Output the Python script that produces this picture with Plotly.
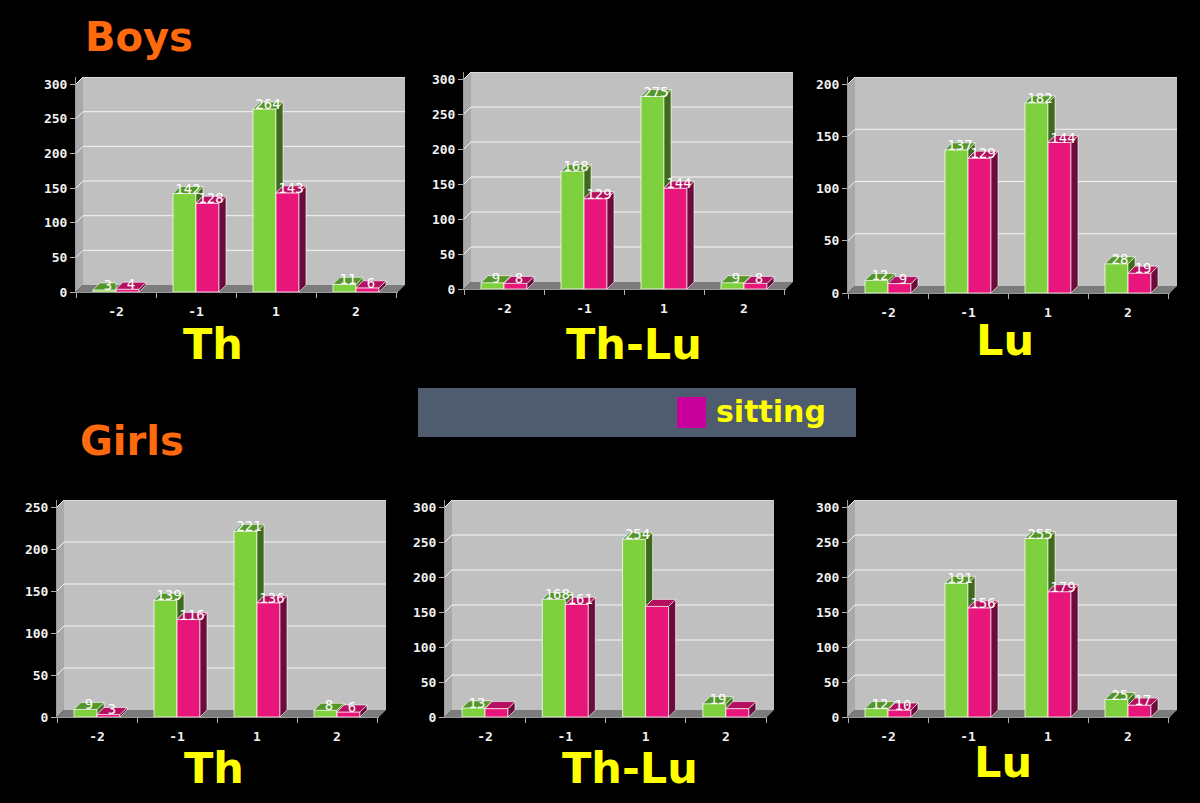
import plotly.graph_objects as go

W, H = 1200, 803

# ---------------- data ----------------
categories = ["-2", "-1", "1", "2"]

boys_th_standing = [3, 142, 264, 11]
boys_th_sitting = [4, 128, 143, 6]

boys_thlu_standing = [9, 168, 275, 9]
boys_thlu_sitting = [8, 129, 144, 8]

boys_lu_standing = [12, 137, 182, 28]
boys_lu_sitting = [9, 129, 144, 19]

girls_th_standing = [9, 139, 221, 8]
girls_th_sitting = [3, 116, 136, 6]

girls_thlu_standing = [13, 168, 254, 19]
girls_thlu_sitting = [12, 161, 158, 12]
girls_thlu_sitting_labels = ["", "161", "", ""]

girls_lu_standing = [12, 191, 255, 25]
girls_lu_sitting = [10, 156, 179, 17]

panel_titles = ["Th", "Th-Lu", "Lu", "Th", "Th-Lu", "Lu"]
y_tick_max = [300, 300, 200, 250, 300, 300]

standing = [boys_th_standing, boys_thlu_standing, boys_lu_standing,
            girls_th_standing, girls_thlu_standing, girls_lu_standing]
sitting = [boys_th_sitting, boys_thlu_sitting, boys_lu_sitting,
           girls_th_sitting, girls_thlu_sitting, girls_lu_sitting]
sitting_labels = [None, None, None, None, girls_thlu_sitting_labels, None]

# ---------------- geometry (pixels) ----------------
geom = [
    dict(axL=76, wallR=405, zero=292, tickpix=84, c0=116, sp=80, lx=213, ly=344),
    dict(axL=464, wallR=793, zero=289, tickpix=79, c0=504, sp=80, lx=634, ly=344),
    dict(axL=848, wallR=1177, zero=293, tickpix=84, c0=888, sp=80, lx=1005, ly=340),
    dict(axL=57, wallR=386, zero=717, tickpix=507, c0=97, sp=80, lx=214, ly=768),
    dict(axL=445, wallR=774, zero=717, tickpix=507, c0=485, sp=80.3, lx=630, ly=768),
    dict(axL=848, wallR=1177, zero=717, tickpix=507, c0=888, sp=80, lx=1003, ly=762),
]
D = 7      # 3D depth in px
BW = 23    # bar width in px

GREEN, GREEN_TOP, GREEN_SIDE = "#7ed03c", "#55962a", "#3e6a1c"
PINK, PINK_TOP, PINK_SIDE = "#e8167a", "#b4105f", "#6c0c3c"
EDGE = "rgba(255,255,255,0.75)"
MONO = "DejaVu Sans Mono"
HEAD_FONT = "DejaVu Sans, sans-serif"


def px_x(p):
    return p / W


def px_y(p):
    return 1 - p / H


fig = go.Figure()
shapes = []
annotations = []
layout_axes = {}

for i, g in enumerate(geom):
    n = i + 1
    xa = "x" if n == 1 else f"x{n}"
    ya = "y" if n == 1 else f"y{n}"
    sp = g["sp"]
    walltop = g["tickpix"] - D
    ymax = y_tick_max[i]
    yr1 = ymax * (g["zero"] - walltop) / (g["zero"] - g["tickpix"])
    xr0 = -(g["c0"] - g["axL"]) / sp
    xr1 = 3 + (g["wallR"] - D - (g["c0"] + 3 * sp)) / sp
    w = BW / sp
    dxd = D / sp
    dyd = D * yr1 / (g["zero"] - walltop)

    xs = list(range(len(categories)))
    sv = standing[i]
    pv = sitting[i]

    # front faces as bars
    fig.add_trace(go.Bar(x=xs, y=sv, width=w, offset=-w, marker=dict(color=GREEN, line=dict(color=EDGE, width=1)),
                         xaxis=xa, yaxis=ya, hoverinfo="skip", showlegend=False))
    fig.add_trace(go.Bar(x=xs, y=pv, width=w, offset=0, marker=dict(color=PINK, line=dict(color=EDGE, width=1)),
                         xaxis=xa, yaxis=ya, hoverinfo="skip", showlegend=False))

    # 3D faces
    gs_x, gs_y, gt_x, gt_y, ps_x, ps_y, pt_x, pt_y = [], [], [], [], [], [], [], []
    for j in xs:
        vg, vp = sv[j], pv[j]
        if vg > vp:
            gs_x += [j, j + dxd, j + dxd, j, j, None]
            gs_y += [vp, vp + dyd, vg + dyd, vg, vp, None]
            gt_x += [j - w, j - w + dxd, j + dxd, j, j - w, None]
        else:
            gt_x += [j - w, j - w + dxd, j, j, j - w, None]
        gt_y += [vg, vg + dyd, vg + dyd, vg, vg, None]
        ps_x += [j + w, j + w + dxd, j + w + dxd, j + w, j + w, None]
        ps_y += [0, dyd, vp + dyd, vp, 0, None]
        pt_x += [j, j + dxd, j + w + dxd, j + w, j, None]
        pt_y += [vp, vp + dyd, vp + dyd, vp, vp, None]
    for fx, fy, col in [(gs_x, gs_y, GREEN_SIDE), (gt_x, gt_y, GREEN_TOP),
                        (ps_x, ps_y, PINK_SIDE), (pt_x, pt_y, PINK_TOP)]:
        if fx:
            fig.add_trace(go.Scatter(x=fx, y=fy, mode="lines", fill="toself", fillcolor=col,
                                     line=dict(color=EDGE, width=0.8), xaxis=xa, yaxis=ya,
                                     hoverinfo="skip", showlegend=False))

    # value labels
    plabels = sitting_labels[i] if sitting_labels[i] is not None else [str(v) for v in pv]
    fig.add_trace(go.Scatter(
        x=[j - w / 2 + dxd / 2 for j in xs] + [j + w / 2 + dxd / 2 for j in xs],
        y=[v + dyd / 2 for v in sv] + [v + dyd / 2 for v in pv],
        text=[str(v) for v in sv] + plabels,
        mode="text", textposition="middle center",
        textfont=dict(color="white", size=14, family=MONO),
        xaxis=xa, yaxis=ya, hoverinfo="skip", showlegend=False, cliponaxis=False))

    tickvals = list(range(0, ymax + 1, 50))
    layout_axes["xaxis" if n == 1 else f"xaxis{n}"] = dict(
        domain=[px_x(g["axL"]), px_x(g["wallR"] - D)], range=[xr0, xr1], anchor=ya,
        automargin=False,
        tickmode="array", tickvals=xs, ticktext=categories,
        ticks="outside", ticklen=7, tickcolor="rgba(0,0,0,0)",
        minor=dict(tickmode="linear", tick0=-0.5, dtick=1, ticks="outside", ticklen=5,
                   tickcolor="#b0b0b0", showgrid=False),
        showgrid=False, zeroline=False, showline=True, linecolor="#9a9a9a", linewidth=1,
        tickfont=dict(color="#f0f0f0", size=13, family=MONO, weight="bold"), fixedrange=True)
    layout_axes["yaxis" if n == 1 else f"yaxis{n}"] = dict(
        domain=[px_y(g["zero"]), px_y(walltop)], range=[0, yr1], anchor=xa,
        automargin=False,
        tickmode="array", tickvals=tickvals, ticks="outside", ticklen=5, tickcolor="#b0b0b0",
        showgrid=False, zeroline=False, showline=True, linecolor="#9a9a9a", linewidth=1,
        tickfont=dict(color="#f0f0f0", size=13, family=MONO, weight="bold"), fixedrange=True)

    # back wall, side wall, floor
    aL, wR, z = g["axL"], g["wallR"], g["zero"]
    shapes.append(dict(type="rect", xref="paper", yref="paper", layer="below",
                       x0=px_x(aL + D), x1=px_x(wR), y0=px_y(z - D), y1=px_y(walltop),
                       fillcolor="#c0c0c0", line=dict(width=0)))
    shapes.append(dict(type="path", xref="paper", yref="paper", layer="below",
                       path=f"M {px_x(aL)},{px_y(z)} L {px_x(aL + D)},{px_y(z - D)} L {px_x(aL + D)},{px_y(walltop)} L {px_x(aL)},{px_y(walltop + D)} Z",
                       fillcolor="#a9a9a9", line=dict(width=0)))
    shapes.append(dict(type="path", xref="paper", yref="paper", layer="below",
                       path=f"M {px_x(aL)},{px_y(z)} L {px_x(wR - D)},{px_y(z)} L {px_x(wR)},{px_y(z - D)} L {px_x(aL + D)},{px_y(z - D)} Z",
                       fillcolor="#7c7c7c", line=dict(width=0)))
    # gridlines on the back wall
    for v in tickvals[1:]:
        shapes.append(dict(type="line", xref="paper", yref=ya, layer="below",
                           x0=px_x(aL + D), x1=px_x(wR), y0=v + dyd, y1=v + dyd,
                           line=dict(color="#f4f4f4", width=1)))
        shapes.append(dict(type="line", xref="paper", yref=ya, layer="below",
                           x0=px_x(aL), x1=px_x(aL + D), y0=v, y1=v + dyd,
                           line=dict(color="#f4f4f4", width=1)))

    # panel label
    annotations.append(dict(text=panel_titles[i], xref="paper", yref="paper",
                            x=px_x(g["lx"]), y=px_y(g["ly"]), xanchor="center", yanchor="middle",
                            showarrow=False, borderpad=0,
                            font=dict(color="#ffff00", size=43, family=HEAD_FONT, weight="bold")))

# group titles
annotations.append(dict(text="Boys", xref="paper", yref="paper", x=px_x(83), y=px_y(37),
                        xanchor="left", yanchor="middle", showarrow=False,
                        font=dict(color="#ff6a0e", size=40, family=HEAD_FONT, weight="bold")))
annotations.append(dict(text="Girls", xref="paper", yref="paper", x=px_x(78), y=px_y(441),
                        xanchor="left", yanchor="middle", showarrow=False,
                        font=dict(color="#ff6a0e", size=40, family=HEAD_FONT, weight="bold")))

# legend box
shapes.append(dict(type="rect", xref="paper", yref="paper", x0=px_x(418), x1=px_x(856),
                   y0=px_y(437), y1=px_y(388), fillcolor="#4f5b6e", line=dict(width=0), layer="below"))
shapes.append(dict(type="rect", xref="paper", yref="paper", x0=px_x(677), x1=px_x(706),
                   y0=px_y(428), y1=px_y(397), fillcolor="#c8009c", line=dict(width=0)))
annotations.append(dict(text="sitting", xref="paper", yref="paper", x=px_x(714), y=px_y(411),
                        xanchor="left", yanchor="middle", showarrow=False,
                        font=dict(color="#ffff00", size=30, family=HEAD_FONT, weight="bold")))

fig.update_layout(
    width=W, height=H, margin=dict(l=0, r=0, t=0, b=0, pad=0, autoexpand=False),
    paper_bgcolor="black", plot_bgcolor="rgba(0,0,0,0)",
    barmode="overlay", showlegend=False,
    shapes=shapes, annotations=annotations, **layout_axes)

fig.write_html("out.html", config={"displayModeBar": False},
               post_script="document.body.style.margin='0';document.body.style.background='black';")
